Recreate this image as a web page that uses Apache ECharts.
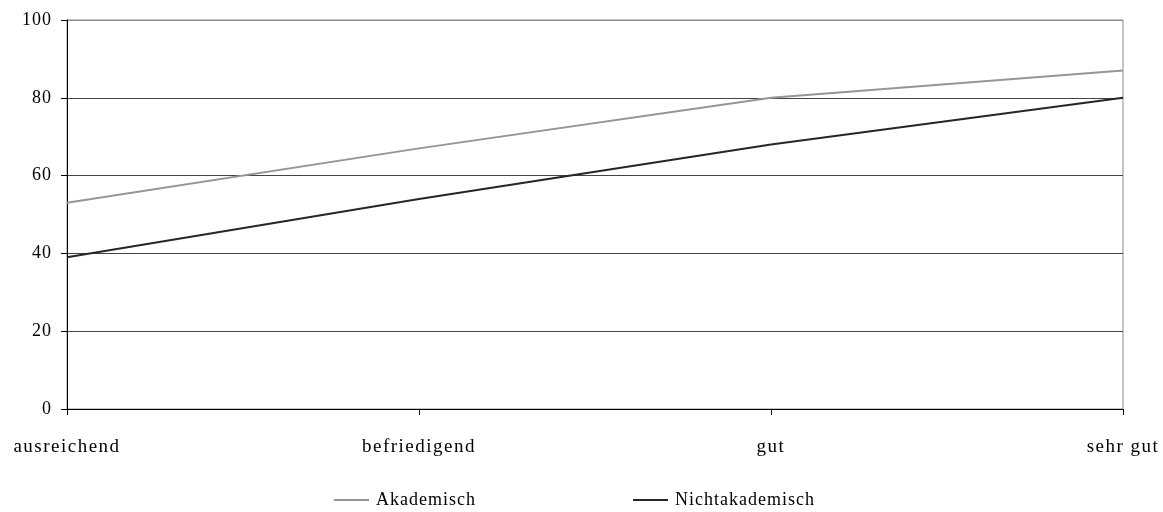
<!DOCTYPE html>
<html>
<head>
<meta charset="utf-8">
<style>
  html, body { margin: 0; padding: 0; background: #fff; }
  #chart { width: 1163px; height: 512px; }
</style>
<script src="https://cdn.jsdelivr.net/npm/echarts@6/dist/echarts.min.js"></script>
</head>
<body>
<div id="chart"></div>
<script>
// Grade categories along the x axis
const categories = ['ausreichend', 'befriedigend', 'gut', 'sehr gut'];

// Values per group
const akademisch = [53, 67, 80, 87];
const nichtakademisch = [39, 54, 68, 80];

const seriesNames = ['Akademisch', 'Nichtakademisch'];

const font = "'Liberation Serif', 'Times New Roman', serif";

// Slightly tracked-out lettering: wider for the category labels, 1px elsewhere
(function () {
  const proto = CanvasRenderingContext2D.prototype;
  const origFill = proto.fillText;
  proto.fillText = function (text, x, y, maxWidth) {
    const prev = this.letterSpacing;
    this.letterSpacing = categories.indexOf(String(text)) !== -1 ? '1.5px' : '1px';
    const r = maxWidth === undefined ? origFill.call(this, text, x, y) : origFill.call(this, text, x, y, maxWidth);
    this.letterSpacing = prev;
    return r;
  };
})();

const chart = echarts.init(document.getElementById('chart'), null, { renderer: 'canvas' });

const legendText = { fontFamily: font, fontSize: 18, color: '#000', padding: [0, 0, 0, 2] };

chart.setOption({
  animation: false,
  backgroundColor: '#ffffff',
  textStyle: { fontFamily: font },
  grid: {
    left: 67, right: 40, top: 20, bottom: 103,
    show: true, borderColor: '#8c8c8c', borderWidth: 1
  },
  legend: [
    {
      data: [seriesNames[0]],
      left: 334, top: 491, padding: 0,
      icon: 'rect', itemWidth: 35, itemHeight: 2,
      textStyle: legendText
    },
    {
      data: [seriesNames[1]],
      left: 633, top: 491, padding: 0,
      icon: 'rect', itemWidth: 35, itemHeight: 2,
      textStyle: legendText
    }
  ],
  xAxis: {
    type: 'category',
    data: categories,
    boundaryGap: false,
    axisLine: { lineStyle: { color: '#000', width: 1 } },
    axisTick: { show: true, length: 6, alignWithLabel: true, lineStyle: { color: '#000', width: 1 } },
    axisLabel: { margin: 29, fontSize: 19, color: '#000', fontFamily: font },
    splitLine: { show: false }
  },
  yAxis: {
    type: 'value',
    min: 0, max: 100, interval: 20,
    axisLine: { show: true, lineStyle: { color: '#000', width: 1 } },
    axisTick: { show: true, length: 6, lineStyle: { color: '#000', width: 1 } },
    axisLabel: { margin: 15, fontSize: 18, color: '#000', fontFamily: font },
    splitLine: {
      show: true,
      lineStyle: { color: ['#444', '#444', '#444', '#444', '#444', '#8c8c8c'], width: 1 }
    }
  },
  series: [
    {
      name: seriesNames[0],
      type: 'line',
      data: akademisch,
      showSymbol: false,
      symbol: 'none',
      color: '#969696',
      lineStyle: { color: '#969696', width: 2 }
    },
    {
      name: seriesNames[1],
      type: 'line',
      data: nichtakademisch,
      showSymbol: false,
      symbol: 'none',
      color: '#262626',
      lineStyle: { color: '#262626', width: 2 }
    }
  ]
});
</script>
</body>
</html>
